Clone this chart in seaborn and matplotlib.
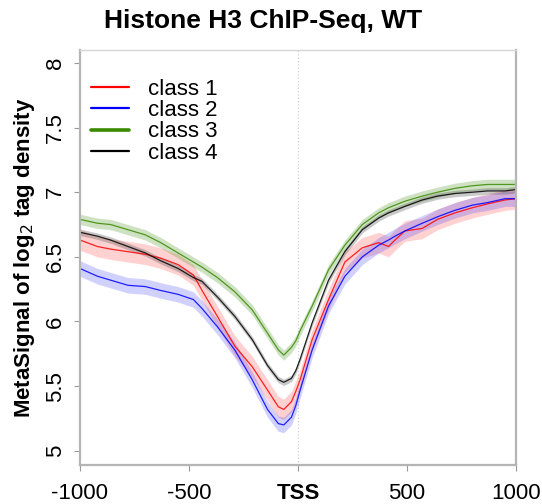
import numpy as np
import pandas as pd
import seaborn as sns
import matplotlib
matplotlib.use("Agg")
import matplotlib.pyplot as plt
from matplotlib.lines import Line2D

# positions relative to TSS (bp)
positions = [-1000, -920, -860, -780, -700, -630, -550, -480, -440, -370, -290,
             -210, -140, -90, -65, -30, -10, 10, 65, 140, 215, 295, 370, 415,
             445, 490, 570, 640, 720, 800, 870, 950, 1000]

class1 = [6.63, 6.58, 6.56, 6.54, 6.52, 6.49, 6.44, 6.36, 6.24, 6.04, 5.81,
          5.65, 5.47, 5.34, 5.32, 5.38, 5.46, 5.55, 5.86, 6.17, 6.46, 6.57,
          6.61, 6.58, 6.63, 6.70, 6.72, 6.79, 6.84, 6.88, 6.91, 6.94, 6.95]
class2 = [6.41, 6.35, 6.32, 6.28, 6.27, 6.24, 6.21, 6.17, 6.10, 5.96, 5.78,
          5.55, 5.32, 5.21, 5.20, 5.26, 5.35, 5.47, 5.78, 6.12, 6.35, 6.50,
          6.59, 6.63, 6.66, 6.70, 6.76, 6.81, 6.86, 6.90, 6.92, 6.95, 6.95]
class3 = [6.79, 6.76, 6.75, 6.71, 6.67, 6.61, 6.53, 6.46, 6.42, 6.34, 6.23,
          6.09, 5.91, 5.78, 5.74, 5.80, 5.85, 5.93, 6.12, 6.40, 6.59, 6.75,
          6.84, 6.88, 6.90, 6.93, 6.97, 7.00, 7.03, 7.05, 7.06, 7.06, 7.06]
class4 = [6.69, 6.66, 6.63, 6.58, 6.53, 6.47, 6.41, 6.34, 6.31, 6.19, 6.04,
          5.86, 5.66, 5.55, 5.53, 5.56, 5.62, 5.71, 5.99, 6.32, 6.54, 6.71,
          6.80, 6.84, 6.86, 6.89, 6.94, 6.97, 6.99, 7.00, 7.01, 7.01, 7.02]

# half width of the confidence band for each class
band_half = {"class 1": 0.08, "class 2": 0.06, "class 3": 0.04, "class 4": 0.025}

class_names = ["class 1", "class 2", "class 3", "class 4"]
line_colors = ["#ff0000", "#0000ff", "#3a8a00", "#000000"]
band_colors = ["#ff3030", "#3030ff", "#4f9a2a", "#404040"]

xtick_vals = [-1000, -500, 0, 500, 1000]
xtick_labels = ["-1000", "-500", "TSS", "500", "1000"]
ytick_vals = [5, 5.5, 6, 6.5, 7, 7.5, 8]
ytick_labels = ["5", "5.5", "6", "6.5", "7", "7.5", "8"]

df = pd.DataFrame({"position": positions, "class 1": class1, "class 2": class2,
                   "class 3": class3, "class 4": class4})
long_df = df.melt(id_vars="position", var_name="group", value_name="signal")

sns.set_style("white")
plt.rcParams["font.family"] = ["Liberation Sans", "DejaVu Sans"]
plt.rcParams["text.color"] = "black"
plt.rcParams["axes.labelcolor"] = "black"
plt.rcParams["xtick.color"] = "black"
plt.rcParams["ytick.color"] = "black"

fig = plt.figure(figsize=(5.42, 5.04), dpi=100)
ax = fig.add_axes([80 / 542, 1 - 465 / 504, 436 / 542, 415 / 504])

# shaded bands first
for name, bc in zip(class_names, band_colors):
    sub = long_df[long_df["group"] == name]
    h = band_half[name]
    alpha = 0.28 if name in ("class 3", "class 4") else 0.22
    ax.fill_between(sub["position"], sub["signal"] - h, sub["signal"] + h,
                    color=bc, alpha=alpha, linewidth=0)

sns.lineplot(data=long_df, x="position", y="signal", hue="group",
             hue_order=class_names, palette=line_colors, linewidth=0.9,
             legend=False, ax=ax, alpha=0.85)

ax.axvline(0, color="#cccccc", linestyle=(0, (1, 2)), linewidth=0.8, zorder=0)

ax.set_xlim(-1000, 1000)
ax.set_ylim(4.89, 8.10)

ax.set_xticks(xtick_vals)
ax.set_xticklabels(xtick_labels, fontsize=16)
for lab in ax.get_xticklabels():
    if lab.get_text() == "TSS":
        lab.set_fontweight("bold")
ax.set_yticks(ytick_vals)
ax.set_yticklabels(ytick_labels, fontsize=16, rotation=90, va="center")

ax.tick_params(axis="both", which="both", direction="out", length=4,
               width=0.8, color="#999999", labelcolor="black",
               left=True, bottom=True)
ax.tick_params(axis="x", pad=9)
ax.tick_params(axis="y", pad=6)

for side in ["left", "bottom", "right"]:
    ax.spines[side].set_color("#b5b5b5")
    ax.spines[side].set_linewidth(1.6)
ax.spines["top"].set_color("#d5d5d5")
ax.spines["top"].set_linewidth(1.0)

ax.set_xlabel("")
ax.set_ylabel("MetaSignal of log$_2$ tag density", fontsize=16,
              fontweight="bold", labelpad=6, color="black")

fig.suptitle("Histone H3 ChIP-Seq, WT", x=263 / 542, y=1 - 21 / 504,
             va="center", fontsize=19, fontweight="bold", color="black")

handles = [Line2D([], [], color=c, linewidth=(2.6 if n == "class 3" else 1.6))
           for n, c in zip(class_names, line_colors)]
ax.legend(handles, class_names, loc="upper left", bbox_to_anchor=(0.0, 0.958),
          frameon=False, fontsize=16, handlelength=1.7, handletextpad=0.85,
          labelspacing=0.02, borderaxespad=0.1, labelcolor="black")

fig.savefig("out.png", dpi=100)
